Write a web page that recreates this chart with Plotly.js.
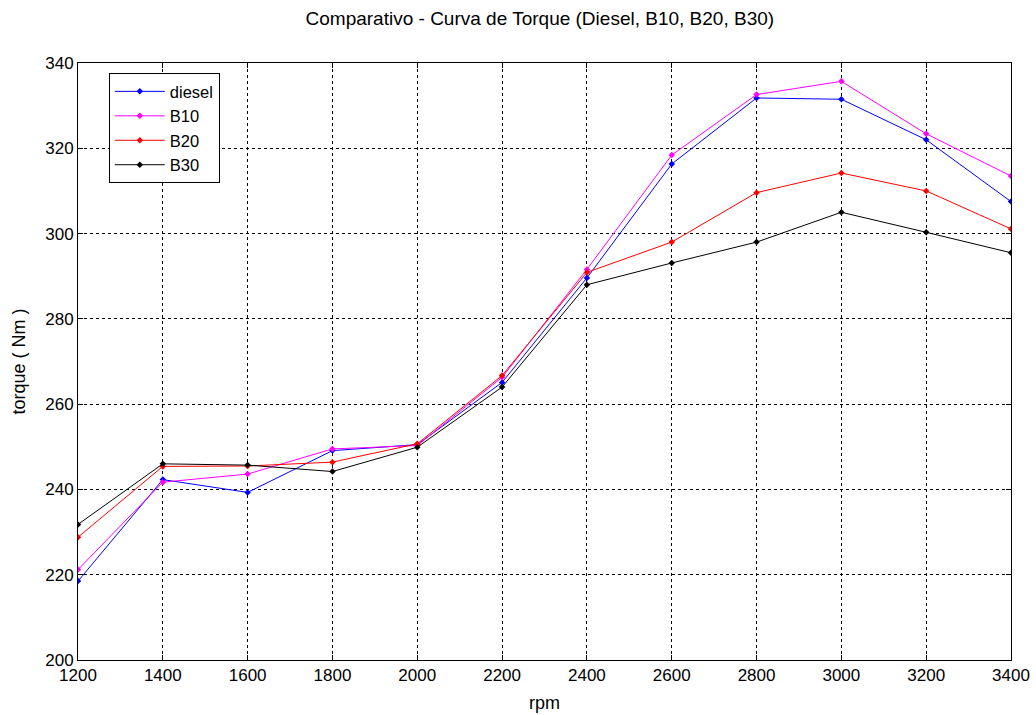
<!DOCTYPE html>
<html>
<head>
<meta charset="utf-8">
<script src="https://cdn.plot.ly/plotly-3.0.1.min.js"></script>
<style>html,body{margin:0;padding:0;background:#fff;}#chart{width:1036px;height:715px;}</style>
</head>
<body>
<div id="chart"></div>
<script>
const rpm = [1200, 1400, 1600, 1800, 2000, 2200, 2400, 2600, 2800, 3000, 3200, 3400];
const diesel = [218.5, 242.3, 239.3, 249.1, 250.5, 265.1, 289.6, 316.3, 331.8, 331.5, 322.0, 307.5];
const b10 = [221.2, 241.7, 243.6, 249.5, 250.3, 266.3, 291.6, 318.4, 332.6, 335.7, 323.4, 313.5];
const b20 = [228.8, 245.4, 245.5, 246.4, 250.7, 266.7, 290.9, 298.0, 309.6, 314.2, 310.0, 301.1];
const b30 = [231.8, 246.0, 245.7, 244.2, 249.9, 264.0, 288.0, 293.1, 298.0, 305.0, 300.3, 295.5];
const seriesNames = ['diesel', 'B10', 'B20', 'B30'];
const seriesColors = ['#0000ff', '#ff00ff', '#ff0000', '#000000'];
const seriesData = [diesel, b10, b20, b30];
const xTicks = [1200, 1400, 1600, 1800, 2000, 2200, 2400, 2600, 2800, 3000, 3200, 3400];
const yTicks = [200, 220, 240, 260, 280, 300, 320, 340];

const FONT = 'Liberation Sans, Arial, sans-serif';
const traces = seriesData.map((d, i) => ({
  x: rpm, y: d, name: seriesNames[i], type: 'scatter', mode: 'lines+markers',
  line: {color: seriesColors[i], width: 1},
  marker: {color: seriesColors[i], size: 5, symbol: 'diamond'}
}));

const axisCommon = {
  showline: true, linecolor: '#000', linewidth: 1, mirror: 'allticks',
  ticks: 'inside', ticklen: 5, tickcolor: '#000', tickwidth: 1,
  showgrid: true, gridcolor: '#000', gridwidth: 1, griddash: '3px,3px',
  zeroline: false, tickfont: {family: FONT, size: 17, color: '#000'}
};

const layout = {
  width: 1036, height: 715,
  margin: {l: 78, r: 25, t: 63, b: 55},
  paper_bgcolor: '#fff', plot_bgcolor: '#fff',
  font: {family: FONT, size: 17, color: '#000'},
  title: {text: 'Comparativo - Curva de Torque (Diesel, B10, B20, B30)', font: {family: FONT, size: 19, color: '#000'}, x: 0.495, xref: 'paper', xanchor: 'center', y: 0.975, yanchor: 'middle'},
  xaxis: Object.assign({}, axisCommon, {
    range: [1200, 3400], tickmode: 'array', tickvals: xTicks, ticktext: xTicks.map(String),
    title: {text: 'rpm', font: {family: FONT, size: 18, color: '#000'}, standoff: 11}
  }),
  yaxis: Object.assign({}, axisCommon, {
    range: [200, 340], tickmode: 'array', tickvals: yTicks, ticktext: yTicks.map(String),
    title: {text: 'torque ( Nm )', font: {family: FONT, size: 18, color: '#000'}, standoff: 14}
  }),
  showlegend: true,
  legend: {
    x: 0.033, y: 0.983, xanchor: 'left', yanchor: 'top',
    bgcolor: '#fff', bordercolor: '#000', borderwidth: 1, itemwidth: 50,
    font: {family: FONT, size: 16.5, color: '#000'}, tracegroupgap: 0
  }
};

Plotly.newPlot('chart', traces, layout, {displayModeBar: false, staticPlot: true});
</script>
</body>
</html>
